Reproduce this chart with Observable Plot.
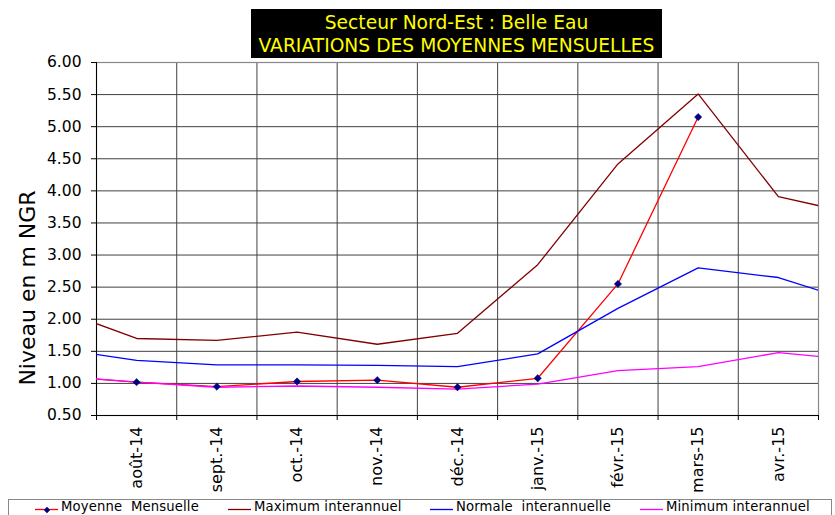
<!DOCTYPE html>
<html><head><meta charset="utf-8">
<script src="https://cdn.jsdelivr.net/npm/d3@7"></script>
<script src="https://cdn.jsdelivr.net/npm/@observablehq/plot@0.6"></script>
<style>
body{margin:0;background:#fff;font-family:"DejaVu Sans",sans-serif;}
#wrap{position:relative;width:835px;height:515px;overflow:hidden;background:#fff;}
#chart{position:absolute;left:0;top:0;}
#title{position:absolute;left:251px;top:9px;width:411px;height:46.4px;padding-top:2.3px;background:#000;color:#ffff00;font-size:18.7px;line-height:23px;text-align:center;white-space:nowrap;}
#legend{position:absolute;left:8px;top:499px;width:824px;height:40px;border:1px solid #888;box-sizing:border-box;}
.item{position:absolute;top:0;height:30px;font-size:13.2px;white-space:nowrap;}
.item svg{position:absolute;left:0;top:0;}
.item span{position:absolute;top:-1.5px;line-height:16px;letter-spacing:0.15px;}
</style></head><body>
<div id="wrap">
 <div id="chart"></div>
 <div id="title">Secteur Nord-Est : Belle Eau<br>VARIATIONS DES MOYENNES MENSUELLES</div>
 <div id="legend"></div>
</div>
<script>
// months: the first and last lie just outside the visible axis (clipped)
const months = ["juil.-14","août-14","sept.-14","oct.-14","nov.-14","déc.-14","janv.-15","févr.-15","mars-15","avr.-15","mai-15"];
const shownMonths = months.slice(1, 10);
const moyenne = [1.11, 1.02, 0.95, 1.03, 1.05, 0.94, 1.08, 2.55, 5.15, null, null];
const maximum = [2.16, 1.70, 1.67, 1.80, 1.61, 1.78, 2.85, 4.42, 5.51, 3.91, 3.63];
const normale = [1.54, 1.36, 1.29, 1.29, 1.28, 1.26, 1.46, 2.17, 2.80, 2.65, 2.25];
const minimum = [1.12, 1.02, 0.94, 0.96, 0.94, 0.91, 0.99, 1.20, 1.26, 1.48, 1.36];
const yTicks = [0.5, 1.0, 1.5, 2.0, 2.5, 3.0, 3.5, 4.0, 4.5, 5.0, 5.5, 6.0];
const seriesNames = ["Moyenne  Mensuelle", "Maximum interannuel", "Normale  interannuelle", "Minimum interannuel"];
const seriesColors = ["#ff0000", "#800000", "#0000ff", "#ff00ff"];
const seriesValues = [moyenne, maximum, normale, minimum];

const rows = [];
seriesValues.forEach((vals, s) => vals.forEach((v, i) => {
  if (v != null) rows.push({series: seriesNames[s], pos: i - 1, month: months[i], value: v});
}));
const bounds = d3.range(shownMonths.length + 1).map(i => i - 0.5);

const lineMarks = seriesNames.map((name, s) =>
  Plot.line(rows.filter(r => r.series === name), {x: "pos", y: "value", stroke: seriesColors[s], strokeWidth: 1.3, clip: true})
);

const chart = Plot.plot({
  width: 835, height: 515,
  marginTop: 62, marginBottom: 100, marginLeft: 96, marginRight: 17,
  style: {fontFamily: "DejaVu Sans", background: "transparent", color: "#000"},
  x: {type: "linear", domain: [-0.5, 8.5], label: null},
  y: {domain: [0.5, 6], label: null},
  marks: [
    Plot.ruleY(yTicks, {stroke: "#404040", strokeWidth: 1}),
    Plot.ruleX(bounds, {stroke: "#404040", strokeWidth: 1}),
    Plot.frame({stroke: "#888", strokeWidth: 1.2}),
    Plot.ruleX([-0.5], {stroke: "#000", strokeWidth: 1}),
    Plot.ruleY([0.5], {stroke: "#000", strokeWidth: 1}),
    Plot.axisY({ticks: yTicks, tickFormat: d3.format(".2f"), tickSize: 5, tickPadding: 10, fontSize: 15.5, label: null}),
    Plot.axisX({ticks: bounds, tickSize: 5, tickFormat: () => "", label: null}),
    Plot.axisX({ticks: d3.range(shownMonths.length), tickFormat: i => shownMonths[i], tickSize: 0, tickPadding: 11, tickRotate: -90, fontSize: 16, label: null}),
    Plot.text(["Niveau en m NGR"], {frameAnchor: "left", dx: -69, dy: 49, rotate: -90, fontSize: 22, textAnchor: "middle", lineAnchor: "middle", fill: "#000"}),
    ...lineMarks,
    Plot.dot(rows.filter(r => r.series === seriesNames[0]), {x: "pos", y: "value", symbol: "diamond2", r: 3.3, fill: "#000080", stroke: "#000080", strokeWidth: 0.5, clip: true})
  ]
});
document.getElementById("chart").appendChild(chart);

// legend
const legendX = [26, 219, 421, 631];
const legend = document.getElementById("legend");
seriesNames.forEach((name, s) => {
  const it = document.createElement("div");
  it.className = "item";
  it.style.left = legendX[s] + "px";
  const marker = s === 0 ? `<path d="M12,6.8 L15.2,10 L12,13.2 L8.8,10 Z" fill="#000080"/>` : "";
  it.innerHTML = `<svg width="26" height="20"><line x1="0" x2="23" y1="9.5" y2="9.5" stroke="${seriesColors[s]}" stroke-width="1.3"/>${marker}</svg><span style="left:26px">${name.replace(/ /g, "&nbsp;")}</span>`;
  legend.appendChild(it);
});
</script>
</body></html>
